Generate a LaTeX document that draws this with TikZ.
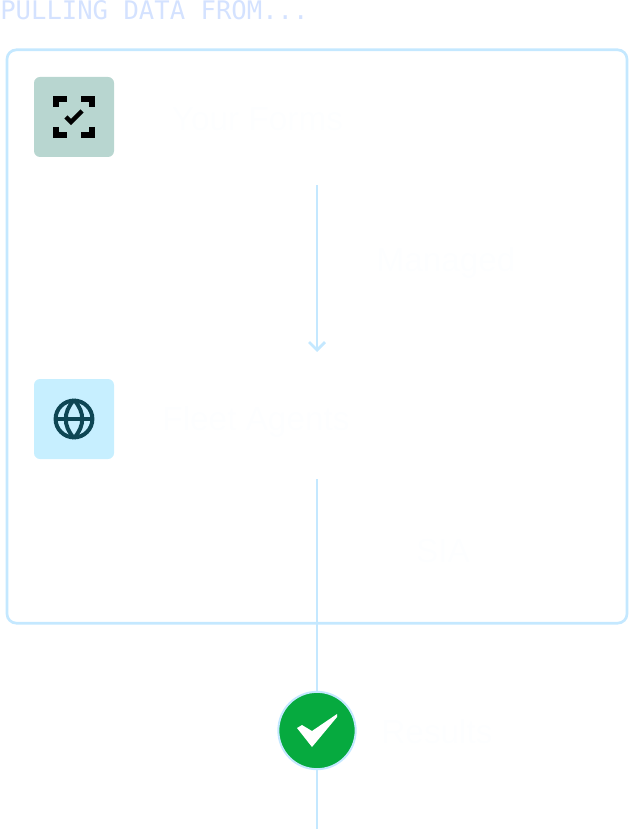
\documentclass[tikz,border=0pt]{standalone}
\usepackage{fontspec}
\setmainfont{Liberation Sans}
\setmonofont{DejaVu Sans Mono}
\usepackage{xcolor}
\definecolor{flowblue}{RGB}{196, 232, 255}
\definecolor{headblue}{RGB}{212, 226, 255}
\definecolor{formsbg}{RGB}{184, 214, 208}
\definecolor{fleetbg}{RGB}{199, 239, 255}
\definecolor{globeteal}{RGB}{14, 70, 84}
\definecolor{okgreen}{RGB}{6, 170, 63}
\definecolor{faintwhite}{RGB}{253, 254, 255}
\usetikzlibrary{arrows.meta, positioning, calc}
\tikzset{
  x=0.75pt, y=-0.75pt,
  flowline/.style={draw=flowblue, line width=2pt},
  iconbox/.style={rounded corners=4.5pt, minimum size=60pt, inner sep=0pt, draw=none},
  stagelabel/.style={font=\fontsize{25pt}{30pt}\selectfont, text=faintwhite, inner sep=0pt},
}
\begin{document}
\begin{tikzpicture}
      \useasboundingbox (0,0) rectangle (628,830);
      % Heading
      \node[font=\ttfamily\fontsize{19.2pt}{22pt}\selectfont, text=headblue, anchor=west, inner sep=0pt] (heading) at (0,10) {PULLING DATA FROM...};
      % Outer frame
      \node[draw=flowblue, line width=2pt, rounded corners=7pt, minimum width=465pt, minimum height=430pt, inner sep=0pt] (frame) at (317,336.5) {};
      % Sources
      \node[iconbox, fill=formsbg] (forms) at (74,117) {};
      \node[iconbox, fill=fleetbg] (fleet) at (74,419) {};
      \node[stagelabel] (formslabel) at (257.5,119.5) {Your Forms};
      \node[stagelabel] (fleetlabel) at (256,421.5) {Fleet Agents};
      % Connector labels
      \node[stagelabel] (managed) at (446,263) {Managed};
      \node[stagelabel] (sia) at (443,551) {SIA};
      % Coordinates on the flow line
      \coordinate (flowa) at (317,185);
      \coordinate (flowb) at (317,352);
      \coordinate (flowc) at (317,479);
      \coordinate (flowd) at (317,829);
      % Connecting lines
      \draw[flowline, -{Straight Barb[length=6pt, width=12pt, line width=2pt]}] (flowa) -- (flowb);
      \draw[flowline] (flowc) -- (flowd);
      % Results
      \node[circle, fill=okgreen, draw=flowblue, line width=1.5pt, minimum size=58pt, inner sep=0pt] (results) at (317,730.5) {};
      \node[stagelabel] (resultslabel) at (437,731.5) {Results};
      \fill[white] ($(results)+(-20,-2.5)$) -- ($(results)+(-15,-5.5)$) -- ($(results)+(-5,0.5)$) -- ($(results)+(20,-16.5)$) -- ($(results)+(20,-13.5)$) -- ($(results)+(-5,16.5)$) -- cycle;
      % Forms icon
      \begin{scope}[shift={(forms)}, line width=3.8pt, black, line cap=butt]
        \draw (-18,-10) -- (-18,-18) -- (-7,-18);
        \draw (7,-18) -- (18,-18) -- (18,-10);
        \draw (-18,10) -- (-18,18) -- (-7,18);
        \draw (18,10) -- (18,18) -- (7,18);
        \draw[line width=3.2pt] (-8,0) -- (-3,5) -- (8,-6);
      \end{scope}
      % Fleet icon
      \begin{scope}[shift={(fleet)}, line width=3pt, globeteal]
        \draw (0,0) circle[radius=13.8pt];
        \draw (-19,0) -- (19,0);
        \draw (0,-19) .. controls (-11,-7) and (-11,7) .. (0,19);
        \draw (0,-19) .. controls (11,-7) and (11,7) .. (0,19);
      \end{scope}
    \end{tikzpicture}
\end{document}
